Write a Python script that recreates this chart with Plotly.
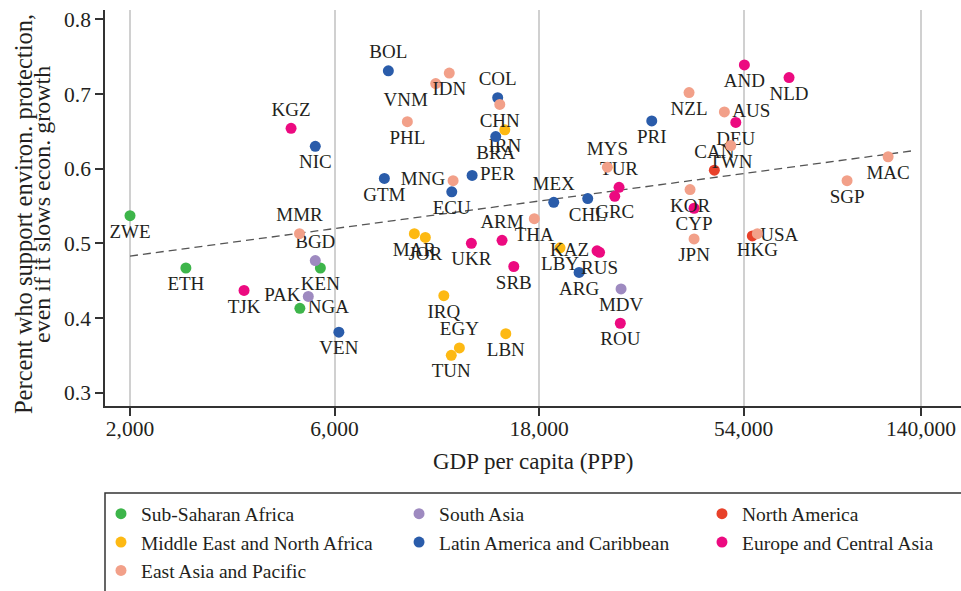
import plotly.graph_objects as go

# ---------------- data ----------------
regions = [
    "Sub-Saharan Africa", "South Asia", "North America",
    "Middle East and North Africa", "Latin America and Caribbean",
    "Europe and Central Asia", "East Asia and Pacific",
]
region_codes = ["SSA", "SA", "NA", "MENA", "LAC", "ECA", "EAP"]

countries = [
    # Sub-Saharan Africa
    "ZWE", "ETH", "KEN", "NGA",
    # South Asia
    "BGD", "PAK", "MDV",
    # North America
    "CAN", "USA",
    # Middle East and North Africa
    "IRN", "MAR", "JOR", "LBY", "IRQ", "LBN", "EGY", "TUN",
    # Latin America and Caribbean
    "NIC", "VEN", "BOL", "GTM", "ECU", "COL", "BRA", "PER", "MEX", "CHL", "ARG", "PRI",
    # Europe and Central Asia
    "TJK", "KGZ", "UKR", "ARM", "SRB", "KAZ", "RUS", "TUR", "GRC", "ROU", "CYP", "DEU", "AND", "NLD",
    # East Asia and Pacific
    "MMR", "PHL", "VNM", "IDN", "MNG", "CHN", "THA", "MYS", "NZL", "AUS", "TWN", "KOR", "JPN", "HKG", "SGP", "MAC",
]
country_region = (
    ["SSA"] * 4 + ["SA"] * 3 + ["NA"] * 2 + ["MENA"] * 8 + ["LAC"] * 12 + ["ECA"] * 14 + ["EAP"] * 16
)
gdp_per_capita = [
    2000, 2700, 5560, 4980,
    5410, 5210, 27950,
    46130, 56570,
    14970, 9210, 9770, 20140, 10790, 15050, 11730, 11230,
    5410, 6140, 8010, 7840, 11260, 14410, 14260, 12560, 19470, 23370, 22310, 32960,
    3690, 4750, 12510, 14750, 15710, 24570, 24900, 27650, 27020, 27840, 41370, 51760, 54200, 68900,
    4970, 8870, 10330, 11110, 11340, 14570, 17540, 25970, 40270, 48680, 50390, 40490, 41370, 58120, 94090, 117300,
]
support_share = [
    0.537, 0.467, 0.467, 0.413,
    0.477, 0.429, 0.439,
    0.598, 0.510,
    0.652, 0.513, 0.508, 0.494, 0.430, 0.379, 0.360, 0.350,
    0.630, 0.381, 0.731, 0.587, 0.569, 0.695, 0.643, 0.591, 0.555, 0.560, 0.461, 0.664,
    0.437, 0.654, 0.500, 0.504, 0.469, 0.490, 0.488, 0.575, 0.563, 0.393, 0.547, 0.662, 0.739, 0.722,
    0.513, 0.663, 0.714, 0.728, 0.584, 0.686, 0.533, 0.602, 0.702, 0.676, 0.631, 0.572, 0.506, 0.513, 0.584, 0.616,
]

# fitted trend line (end points)
fit_gdp = [2000, 134000]
fit_share = [0.483, 0.624]

x_tick_values = [2000, 6000, 18000, 54000, 140000]
x_tick_labels = ["2,000", "6,000", "18,000", "54,000", "140,000"]
y_tick_values = [0.3, 0.4, 0.5, 0.6, 0.7, 0.8]
y_tick_labels = ["0.3", "0.4", "0.5", "0.6", "0.7", "0.8"]

# ---------------- styling ----------------
region_colors = {
    "SSA": "#3db54a", "SA": "#9e8ac0", "NA": "#e8412a", "MENA": "#fdb913",
    "LAC": "#2a5caa", "ECA": "#ec0a80", "EAP": "#f2a089",
}
region_legend = {
    "SSA": "legend", "MENA": "legend", "EAP": "legend",
    "SA": "legend2", "LAC": "legend2",
    "NA": "legend3", "ECA": "legend3",
}
label_position = {
    "KGZ": "top center", "MMR": "top center", "BGD": "top center", "BOL": "top center",
    "COL": "top center", "ARM": "top center", "EGY": "top center", "MEX": "top center",
    "MYS": "top center", "TUR": "top center", "CAN": "top center",
    "PAK": "middle left", "MNG": "middle left", "KAZ": "middle left",
    "NGA": "middle right", "PER": "middle right", "AUS": "middle right", "USA": "middle right",
    "VNM": "bottom left",
}
FONT = "Liberation Serif, Times New Roman, serif"
TEXT = "#231f20"
AX = "#333333"

fig = go.Figure()

fig.add_trace(go.Scatter(
    x=fit_gdp, y=fit_share, mode="lines",
    line=dict(color="#555555", width=1.3, dash="8px,5px"),
    showlegend=False, hoverinfo="skip",
))

for name, code in zip(regions, region_codes):
    idx = [i for i, r in enumerate(country_region) if r == code]
    fig.add_trace(go.Scatter(
        x=[gdp_per_capita[i] for i in idx],
        y=[support_share[i] for i in idx],
        text=[countries[i] for i in idx],
        textposition=[label_position.get(countries[i], "bottom center") for i in idx],
        mode="markers+text",
        name=name,
        legend=region_legend[code],
        marker=dict(color=region_colors[code], size=11, line=dict(width=0)),
        textfont=dict(family=FONT, size=19, color=TEXT),
        cliponaxis=False,
    ))

legend_common = dict(
    orientation="v", xanchor="left", yanchor="top", y=-0.2235,
    bgcolor="rgba(0,0,0,0)", borderwidth=0,
    font=dict(family=FONT, size=19.5, color=TEXT),
    tracegroupgap=0,
)

fig.update_layout(
    width=961, height=591,
    margin=dict(l=105, r=0, t=10, b=185, autoexpand=False),
    paper_bgcolor="white", plot_bgcolor="white",
    font=dict(family=FONT, color=TEXT),
    legend=dict(x=-0.0047, **legend_common),
    legend2=dict(x=0.3435, **legend_common),
    legend3=dict(x=0.6974, **legend_common),
    xaxis=dict(
        type="log", range=[3.2427, 5.2393],
        tickvals=x_tick_values, ticktext=x_tick_labels,
        showgrid=True, gridcolor="#d0d0d0", gridwidth=1.5,
        showline=True, linecolor=AX, linewidth=1.5,
        ticks="outside", ticklen=8, tickwidth=1.5, tickcolor=AX,
        ticklabelstandoff=-6,
        zeroline=False, tickfont=dict(family=FONT, size=21.5, color=TEXT),
    ),
    yaxis=dict(
        range=[0.2822, 0.8125],
        tickvals=y_tick_values, ticktext=y_tick_labels,
        showgrid=False,
        showline=True, linecolor=AX, linewidth=1.5,
        ticks="outside", ticklen=8, tickwidth=1.5, tickcolor=AX,
        zeroline=False, tickfont=dict(family=FONT, size=21.5, color=TEXT),
    ),
    shapes=[dict(
        type="rect", xref="paper", yref="paper",
        x0=0, x1=1.05, y0=-0.2197, y1=-0.62,
        line=dict(color=AX, width=1.5), fillcolor="rgba(0,0,0,0)",
    )],
    annotations=[
        dict(text="GDP per capita (PPP)", xref="paper", yref="paper",
             x=0.5, y=-0.1414, xanchor="center", yanchor="middle", showarrow=False,
             font=dict(family=FONT, size=23, color=TEXT)),
        dict(text="Percent who support environ. protection,", xref="paper", yref="paper",
             x=-0.0958, y=0.4848, xanchor="center", yanchor="middle", showarrow=False,
             textangle=-90, font=dict(family=FONT, size=24.5, color=TEXT)),
        dict(text="even if it slows econ. growth", xref="paper", yref="paper",
             x=-0.0736, y=0.5101, xanchor="center", yanchor="middle", showarrow=False,
             textangle=-90, font=dict(family=FONT, size=24, color=TEXT)),
    ],
)

fig.write_html(
    "out.html",
    config={"displayModeBar": False},
    post_script="document.body.style.margin = '0px';",
)
